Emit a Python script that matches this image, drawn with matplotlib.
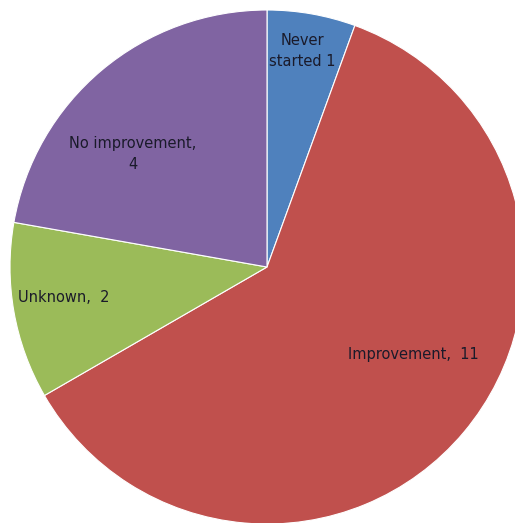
import matplotlib.pyplot as plt

categories = ['Never\nstarted 1', 'Improvement,  11', 'Unknown,  2', 'No improvement,\n4']
values = [1, 11, 2, 4]
colors = ['#4F81BD', '#C0504D', '#9BBB59', '#8064A2']
# label spots in pie units (radius = 1)
label_pos = [(0.136, 0.84), (0.568, -0.339), (-0.79, -0.117), (-0.521, 0.44)]

fig = plt.figure(figsize=(5.15, 5.23), dpi=100)
W, H = 515, 523
cx, cy, r = 267, 267, 257
ax = fig.add_axes([(cx - r) / W, (H - cy - r) / H, 2 * r / W, 2 * r / H])

wedges, _ = ax.pie(values, colors=colors, startangle=90, counterclock=False,
                   radius=1, wedgeprops=dict(edgecolor='white', linewidth=0.8))
ax.set_xlim(-1, 1)
ax.set_ylim(-1, 1)
ax.set_aspect('equal')
ax.axis('off')

for lab, (x, y) in zip(categories, label_pos):
    ax.text(x, y, lab, ha='center', va='center', fontsize=10.5,
            color='#1a1a2a', family='DejaVu Sans', linespacing=1.5)

fig.savefig('out.png', dpi=100)
